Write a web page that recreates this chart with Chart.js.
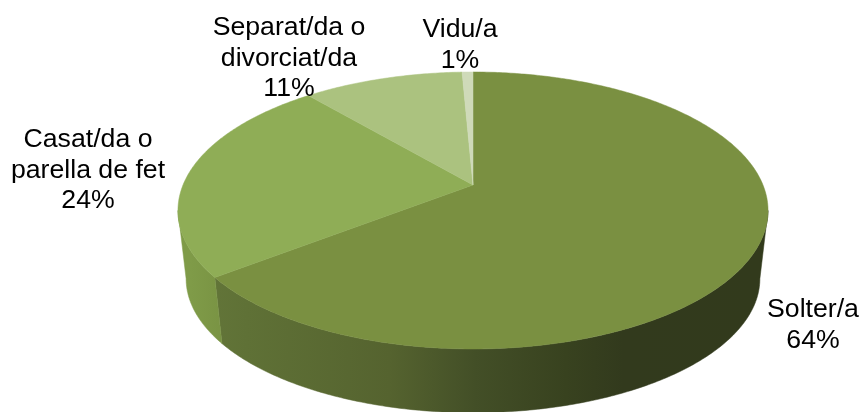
<!DOCTYPE html>
<html>
<head>
<meta charset="utf-8">
<style>
  html, body { margin: 0; padding: 0; background: #fff; }
  canvas { display: block; }
</style>
<script src="https://cdn.jsdelivr.net/npm/chart.js@4/dist/chart.umd.min.js"></script>
</head>
<body>
<canvas id="pie-chart" width="861" height="412"></canvas>
<script>
const categories = ["Solter/a", "Casat/da o parella de fet", "Separat/da o divorciat/da", "Vidu/a"];
const shares = [64.49, 24.3, 10.5, 0.71];

const topColors = ["#7A9041", "#8FAD56", "#ABC27F", "#CFDAB9"];

// label layout, one entry per category
const labelLines = [["Solter/a"], ["Casat/da o", "parella de fet"], ["Separat/da o", "divorciat/da"], ["Vidu/a"]];
const labelCenters = [[813, 310], [88, 140], [289, 28], [460, 30]];

// perspective of the disc: the near side is drawn larger than the far side
const TOP_FACE = { cx: 473, cy: 185, a: 133.8, b: 290, p: 0.184 };
const BOTTOM_FACE = { cx: 473, cy: 254, a: 129.5, b: 282, p: 0.184 };

function project(face, angle) {
  const u = Math.cos(angle);
  const v = -Math.sin(angle);
  const w = 1 + face.p * v;
  return [face.cx + (face.b * u) / w, face.cy - (face.a * v) / w];
}

function traceRim(ctx, face, from, to, reverse) {
  const steps = Math.max(2, Math.ceil(Math.abs(to - from) * 90));
  for (let i = 0; i <= steps; i++) {
    const t = reverse ? 1 - i / steps : i / steps;
    const pt = project(face, from + (to - from) * t);
    ctx.lineTo(pt[0], pt[1]);
  }
}

function wallFill(ctx, index) {
  const grad = ctx.createLinearGradient(190, 0, 760, 0);
  if (index === 0) {
    grad.addColorStop(0, "#64773A");
    grad.addColorStop(0.1, "#5F7136");
    grad.addColorStop(0.35, "#55632F");
    grad.addColorStop(0.5, "#434F27");
    grad.addColorStop(0.66, "#38421F");
    grad.addColorStop(0.76, "#323A1D");
    grad.addColorStop(1, "#323A1C");
  } else {
    grad.addColorStop(0, "#7F9B48");
    grad.addColorStop(0.06, "#799343");
    grad.addColorStop(1, "#799343");
  }
  return grad;
}

const pie3d = {
  id: "pie3d",
  beforeDatasetsDraw(chart) {
    const ctx = chart.ctx;
    const arcs = chart.getDatasetMeta(0).data;
    const limit = Math.asin(TOP_FACE.p);

    ctx.save();
    // side wall, only the part turned towards the viewer
    arcs.forEach((arc, i) => {
      const from = Math.max(arc.startAngle, limit);
      const to = Math.min(arc.endAngle, Math.PI - limit);
      if (to <= from) return;
      const fill = wallFill(ctx, i);
      ctx.beginPath();
      traceRim(ctx, TOP_FACE, from, to, false);
      traceRim(ctx, BOTTOM_FACE, from, to, true);
      ctx.closePath();
      ctx.fillStyle = fill;
      ctx.strokeStyle = fill;
      ctx.lineWidth = 0.5;
      ctx.fill();
      ctx.stroke();
    });

    // top face
    arcs.forEach((arc, i) => {
      ctx.beginPath();
      ctx.moveTo(TOP_FACE.cx, TOP_FACE.cy);
      traceRim(ctx, TOP_FACE, arc.startAngle, arc.endAngle, false);
      ctx.closePath();
      ctx.fillStyle = topColors[i];
      ctx.strokeStyle = topColors[i];
      ctx.lineWidth = 0.5;
      ctx.fill();
      ctx.stroke();
    });
    ctx.restore();
    return false;
  },
  afterDraw(chart) {
    const ctx = chart.ctx;
    ctx.save();
    ctx.font = '26.67px "Liberation Sans", Arial, sans-serif';
    ctx.fillStyle = "#000";
    ctx.textAlign = "center";
    ctx.textBaseline = "middle";
    labelLines.forEach((lines, i) => {
      const rows = lines.concat(Math.round(shares[i]) + "%");
      rows.forEach((row, r) => {
        ctx.fillText(row, labelCenters[i][0], labelCenters[i][1] + r * 30.5);
      });
    });
    ctx.restore();
  },
};

new Chart(document.getElementById("pie-chart"), {
  type: "pie",
  data: {
    labels: categories,
    datasets: [{ data: shares, backgroundColor: topColors, borderWidth: 0 }],
  },
  options: {
    responsive: false,
    animation: false,
    plugins: {
      legend: { display: false },
      tooltip: { enabled: false },
    },
  },
  plugins: [pie3d],
});
</script>
</body>
</html>
